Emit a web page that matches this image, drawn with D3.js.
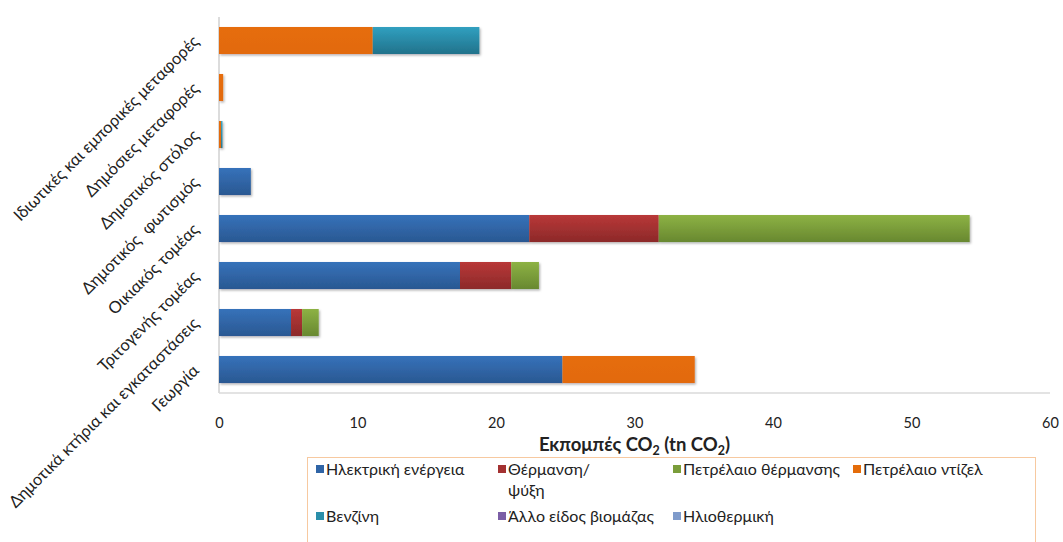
<!DOCTYPE html>
<html>
<head>
<meta charset="utf-8">
<script src="https://cdn.jsdelivr.net/npm/d3@7"></script>
<style>
  html, body { margin: 0; padding: 0; background: #fff; }
  svg { display: block; font-family: Lato, "Open Sans", sans-serif; }
</style>
</head>
<body>
<svg id="chart" width="1063" height="542"></svg>
<script>
// Sectors, top to bottom
const categories = [
  "Ιδιωτικές και εμπορικές μεταφορές",
  "Δημόσιες μεταφορές",
  "Δημοτικός στόλος",
  "Δημοτικός  φωτισμός",
  "Οικιακός τομέας",
  "Τριτογενής τομέας",
  "Δημοτικά κτήρια και εγκαταστάσεις",
  "Γεωργία"
];

// Energy sources (stack order)
const seriesNames = [
  "Ηλεκτρική ενέργεια",
  "Θέρμανση/ ψύξη",
  "Πετρέλαιο θέρμανσης",
  "Πετρέλαιο ντίζελ",
  "Βενζίνη",
  "Άλλο είδος βιομάζας",
  "Ηλιοθερμική"
];

// Emissions per source, tn CO2, in category order
const electricity    = [0, 0, 0, 2.3, 22.4, 17.4, 5.2, 24.8];
const heatingCooling = [0, 0, 0, 0, 9.35, 3.7, 0.8, 0];
const heatingOil     = [0, 0, 0, 0, 22.45, 2.0, 1.2, 0];
const diesel         = [11.1, 0.3, 0.15, 0, 0, 0, 0, 9.55];
const petrol         = [7.7, 0, 0.1, 0, 0, 0, 0, 0];
const biomass        = [0, 0, 0, 0, 0, 0, 0, 0];
const solarThermal   = [0, 0, 0, 0, 0, 0, 0, 0];

const xTicks = [0, 10, 20, 30, 40, 50, 60];

const seriesValues = [electricity, heatingCooling, heatingOil, diesel, petrol, biomass, solarThermal];

const colors = [
  ["#3672ba", "#2a5892"],
  ["#b93838", "#8c2929"],
  ["#8db244", "#688830"],
  ["#e66d0b", "#e26a09"],
  ["#30a0c0", "#22728b"],
  ["#7d60a8", "#5f4682"],
  ["#85a1cf", "#6582b2"]
];
const legendColors = ["#2f64a6", "#a33131", "#7a9d3a", "#e46c0a", "#2a8faa", "#7b5ea6", "#7f9bcb"];

const rows = categories.map((c, i) => {
  const r = { cat: c };
  seriesNames.forEach((s, k) => r[s] = seriesValues[k][i]);
  return r;
});
const stacked = d3.stack().keys(seriesNames)(rows);

const svg = d3.select("#chart");
const margin = { left: 219, right: 13, top: 17, bottom: 149 };
const W = 1063, H = 542;

const x = d3.scaleLinear().domain([0, 60]).range([margin.left, 1050]);
const y = d3.scaleBand().domain(categories).range([margin.top, H - margin.bottom]).paddingInner(0.425).paddingOuter(0.2125);

const defs = svg.append("defs");
colors.forEach((c, k) => {
  const g = defs.append("linearGradient").attr("id", "g" + k).attr("x1", 0).attr("y1", 0).attr("x2", 0).attr("y2", 1);
  g.append("stop").attr("offset", "0%").attr("stop-color", c[0]);
  g.append("stop").attr("offset", "100%").attr("stop-color", c[1]);
});
const f = defs.append("filter").attr("id", "shadow").attr("x", "-5%").attr("y", "-20%").attr("width", "110%").attr("height", "150%");
f.append("feDropShadow").attr("dx", 1.2).attr("dy", 1.5).attr("stdDeviation", 1.2).attr("flood-color", "#000").attr("flood-opacity", 0.3);

// axis lines
svg.append("line").attr("x1", x(0)).attr("x2", x(0)).attr("y1", margin.top).attr("y2", H - margin.bottom)
  .attr("stroke", "#d0d0d0").attr("stroke-width", 1.5);
svg.append("line").attr("x1", x(0)).attr("x2", x(60)).attr("y1", H - margin.bottom).attr("y2", H - margin.bottom)
  .attr("stroke", "#dadada").attr("stroke-width", 1.5);

// bars
const barG = svg.append("g").attr("filter", "url(#shadow)");
stacked.forEach((layer, k) => {
  barG.selectAll(null).data(layer.filter(d => d[1] - d[0] > 0)).enter().append("rect")
    .attr("x", d => x(d[0]))
    .attr("width", d => x(d[1]) - x(d[0]))
    .attr("y", d => y(d.data.cat))
    .attr("height", y.bandwidth())
    .attr("fill", `url(#g${k})`);
});

// x axis
const xAxis = svg.append("g").attr("transform", `translate(0,${H - margin.bottom + 22})`)
  .call(d3.axisBottom(x).tickValues(xTicks).tickSize(0).tickFormat(d3.format("d")));
xAxis.select(".domain").remove();
xAxis.selectAll("text").attr("font-size", 14.5).attr("fill", "#222").attr("font-family", "Lato, sans-serif");

// y axis labels rotated
const yAxis = svg.append("g");
categories.forEach(c => {
  const cy = y(c) + y.bandwidth() / 2;
  yAxis.append("text")
    .attr("transform", `translate(200,${cy + 2}) rotate(-45)`)
    .attr("text-anchor", "end")
    .attr("font-size", 16.5)
    .attr("fill", "#222")
    .attr("xml:space", "preserve")
    .text(c);
});

// axis title
const title = svg.append("text").attr("x", (x(0) + x(60)) / 2).attr("y", 451)
  .attr("text-anchor", "middle").attr("font-size", 18.5).attr("font-weight", "bold").attr("fill", "#222");
title.append("tspan").text("Εκπομπές CO");
title.append("tspan").attr("font-size", 12.5).attr("dy", 4).text("2");
title.append("tspan").attr("dy", -4).text(" (tn CO");
title.append("tspan").attr("font-size", 12.5).attr("dy", 4).text("2");
title.append("tspan").attr("dy", -4).text(")");

// legend
svg.append("rect").attr("x", 307.5).attr("y", 457.5).attr("width", 728).attr("height", 100)
  .attr("fill", "none").attr("stroke", "#f7c9a0").attr("stroke-width", 1);

const legendPos = [
  [316, 469], [498, 469], [673, 469], [853, 469],
  [316, 516], [498, 516], [673, 516]
];
seriesNames.forEach((s, k) => {
  const [lx, ly] = legendPos[k];
  svg.append("rect").attr("x", lx).attr("y", ly - 4).attr("width", 8).attr("height", 8).attr("fill", legendColors[k]);
  const t = svg.append("text").attr("x", lx + 10).attr("y", ly + 5.5).attr("font-size", 16).attr("fill", "#222");
  if (s === "Θέρμανση/ ψύξη") {
    t.append("tspan").text("Θέρμανση/");
    t.append("tspan").attr("x", lx + 10).attr("dy", 21).text("ψύξη");
  } else {
    t.text(s);
  }
});
</script>
</body>
</html>
